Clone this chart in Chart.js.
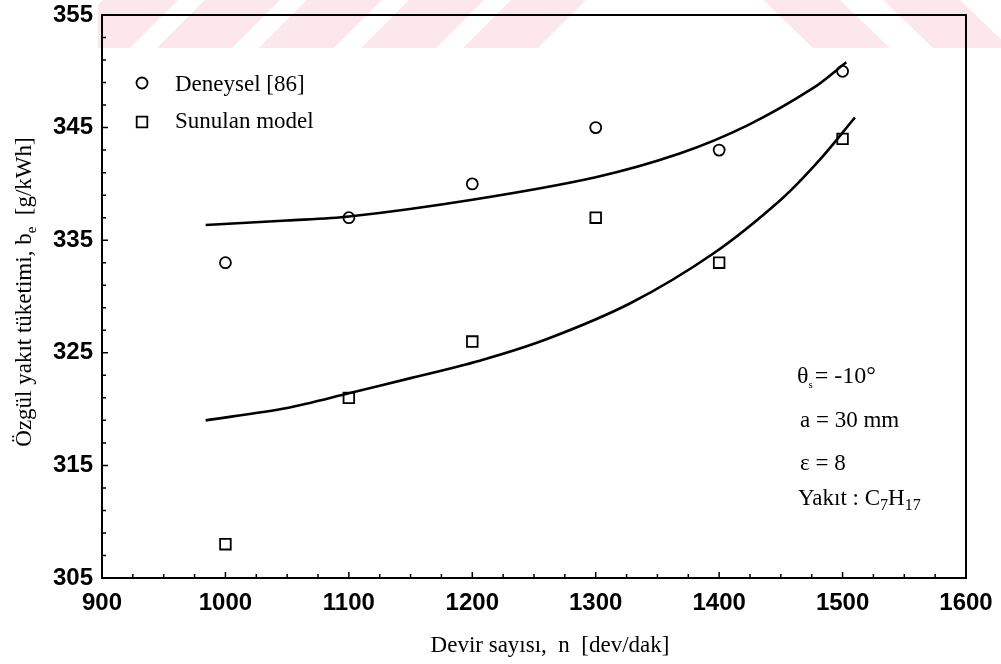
<!DOCTYPE html>
<html>
<head>
<meta charset="utf-8">
<script src="https://cdn.jsdelivr.net/npm/chart.js@4"></script>
<style>
  html, body { margin: 0; padding: 0; background: #fff; }
  #wrap { width: 1001px; height: 664px; }
</style>
</head>
<body>
<div id="wrap"><canvas id="be-chart" width="1001" height="664"></canvas></div>
<script>
const rpm = [1000, 1100, 1200, 1300, 1400, 1500];
const deneyselBe = [333, 337, 340, 345, 343, 350];
const modelBe = [308, 321, 326, 337, 333, 344];

// Fitted curves, points
const upperFitRpm = [984, 1050, 1100, 1200, 1300, 1368, 1423, 1476, 1503];
const upperFitBe = [336.35, 336.75, 337.1, 338.6, 340.6, 342.7, 345.2, 348.5, 350.8];
const lowerFitRpm = [984, 1050, 1100, 1150, 1206, 1260, 1328, 1395, 1450, 1482, 1510];
const lowerFitBe = [319.0, 320.1, 321.4, 322.75, 324.3, 326.2, 329.4, 333.8, 338.6, 342.2, 345.9];

const legendLabels = ["Deneysel [86]", "Sunulan model"];

function toPoints(xs, ys) {
  return xs.map((v, i) => ({ x: v, y: ys[i] }));
}

const serif = '"Liberation Serif", "Times New Roman", serif';
const sans = '"Liberation Sans", Arial, sans-serif';

// pale pink striped band at the top of the scan
const watermark = {
  id: "watermark",
  beforeDraw(chart) {
    const ctx = chart.ctx;
    ctx.save();
    ctx.beginPath();
    ctx.rect(98, 0, 903, 48);
    ctx.clip();
    ctx.fillStyle = "#fce8ec";
    for (let b = 55; b < 560; b += 102) {
      ctx.beginPath();
      ctx.moveTo(b, 48);
      ctx.lineTo(b + 75, 48);
      ctx.lineTo(b + 123, 0);
      ctx.lineTo(b + 48, 0);
      ctx.closePath();
      ctx.fill();
    }
    for (let t = 763; t < 1100; t += 120) {
      ctx.beginPath();
      ctx.moveTo(t, 0);
      ctx.lineTo(t + 77, 0);
      ctx.lineTo(t + 127, 48);
      ctx.lineTo(t + 50, 48);
      ctx.closePath();
      ctx.fill();
    }
    ctx.restore();
  },
};

// box round the plot and the small inward ticks
const frame = {
  id: "frame",
  afterDatasetsDraw(chart) {
    const { ctx, chartArea: a, scales } = chart;
    const x = scales.x, y = scales.y;
    ctx.save();
    ctx.strokeStyle = "#000";
    ctx.lineWidth = 2;
    ctx.strokeRect(a.left, a.top, a.right - a.left, a.bottom - a.top);
    ctx.lineWidth = 1.5;
    ctx.beginPath();
    for (let v = 900; v <= 1600; v += 25) {
      const px = x.getPixelForValue(v);
      const len = v % 100 === 0 ? 6 : 4;
      ctx.moveTo(px, a.bottom);
      ctx.lineTo(px, a.bottom - len);
    }
    for (let v = 305; v <= 355; v += 2) {
      const py = y.getPixelForValue(v);
      const len = (v - 305) % 10 === 0 ? 6 : 4;
      ctx.moveTo(a.left, py);
      ctx.lineTo(a.left + len, py);
    }
    ctx.stroke();
    ctx.restore();
  },
};

// legend, notes and axis titles
const texts = {
  id: "texts",
  afterDraw(chart) {
    const ctx = chart.ctx;
    const h = Chart.helpers;
    ctx.save();
    ctx.textBaseline = "alphabetic";
    ctx.textAlign = "left";

    // legend
    ctx.strokeStyle = "#000";
    ctx.fillStyle = "rgba(0,0,0,0)";
    ctx.lineWidth = 1.8;
    h.drawPoint(ctx, { pointStyle: "circle", radius: 5.5, rotation: 0, borderWidth: 1.8 }, 142, 83);
    h.drawPoint(ctx, { pointStyle: "rect", radius: 7.5, rotation: 0, borderWidth: 1.8 }, 142, 122);
    ctx.fillStyle = "#000";
    ctx.font = "23px " + serif;
    ctx.fillText(legendLabels[0], 175, 91);
    ctx.fillText(legendLabels[1], 175, 128);

    // notes
    let xx = 797;
    ctx.font = "24px " + serif;
    ctx.fillText("\u03b8", xx, 383);
    xx += ctx.measureText("\u03b8").width;
    ctx.font = "11px " + serif;
    ctx.fillText("s", xx, 388);
    xx += ctx.measureText("s").width + 2;
    ctx.font = "24px " + serif;
    ctx.fillText("= -10\u00b0", xx, 383);

    ctx.font = "23px " + serif;
    ctx.fillText("a = 30 mm", 800, 427);
    ctx.fillText("\u03b5 = 8", 800, 470);
    xx = 798;
    const parts = [["Yak\u0131t : C", 0], ["7", 1], ["H", 0], ["17", 1]];
    parts.forEach(([s, sub]) => {
      ctx.font = (sub ? "16px " : "23px ") + serif;
      ctx.fillText(s, xx, sub ? 510 : 505);
      xx += ctx.measureText(s).width;
    });

    // x title
    ctx.font = "23px " + serif;
    ctx.textAlign = "center";
    ctx.fillText("Devir say\u0131s\u0131,  n  [dev/dak]", 550, 652);

    // y title, rotated
    ctx.translate(31, 292);
    ctx.rotate(-Math.PI / 2);
    const yParts = [["\u00d6zg\u00fcl yak\u0131t t\u00fcketimi, b", 0], ["e", 1], ["  [g/kWh]", 0]];
    let total = 0;
    yParts.forEach(([s, sub]) => {
      ctx.font = (sub ? "15px " : "23px ") + serif;
      total += ctx.measureText(s).width;
    });
    ctx.textAlign = "left";
    let p = -total / 2;
    yParts.forEach(([s, sub]) => {
      ctx.font = (sub ? "15px " : "23px ") + serif;
      ctx.fillText(s, p, sub ? 5 : 0);
      p += ctx.measureText(s).width;
    });
    ctx.restore();
  },
};

new Chart(document.getElementById("be-chart"), {
  type: "scatter",
  data: {
    datasets: [
      {
        label: legendLabels[0],
        data: toPoints(rpm, deneyselBe),
        pointStyle: "circle",
        pointRadius: 5.5,
        pointBorderWidth: 1.8,
        borderColor: "#000",
        backgroundColor: "rgba(0,0,0,0)",
      },
      {
        label: legendLabels[1],
        data: toPoints(rpm, modelBe),
        pointStyle: "rect",
        pointRadius: 7.5,
        pointBorderWidth: 1.8,
        borderColor: "#000",
        backgroundColor: "rgba(0,0,0,0)",
      },
      {
        label: "fit1",
        type: "line",
        data: toPoints(upperFitRpm, upperFitBe),
        showLine: true,
        pointRadius: 0,
        borderColor: "#000",
        borderWidth: 2.6,
        tension: 0.3,
        fill: false,
      },
      {
        label: "fit2",
        type: "line",
        data: toPoints(lowerFitRpm, lowerFitBe),
        showLine: true,
        pointRadius: 0,
        borderColor: "#000",
        borderWidth: 2.6,
        tension: 0.3,
        fill: false,
      },
    ],
  },
  options: {
    responsive: false,
    animation: false,
    layout: { padding: { top: 15, right: 35, left: 0, bottom: 0 } },
    plugins: {
      legend: { display: false },
      tooltip: { enabled: false },
    },
    scales: {
      x: {
        type: "linear",
        min: 900,
        max: 1600,
        grid: { display: false, drawTicks: false },
        border: { display: false },
        ticks: {
          stepSize: 100,
          padding: 11,
          color: "#000",
          maxRotation: 0,
          font: { family: sans, size: 24, weight: "bold" },
          callback: (v) => String(v),
        },
        afterFit(scale) {
          scale.height = 86;
          scale.paddingLeft = 0;
          scale.paddingRight = 0;
        },
      },
      y: {
        min: 305,
        max: 355,
        grid: { display: false, drawTicks: false },
        border: { display: false },
        ticks: {
          stepSize: 10,
          padding: 9,
          color: "#000",
          font: { family: sans, size: 24, weight: "bold" },
          callback: (v) => String(v),
        },
        afterFit(scale) {
          scale.width = 102;
          scale.paddingTop = 0;
          scale.paddingBottom = 0;
        },
      },
    },
  },
  plugins: [watermark, frame, texts],
});
</script>
</body>
</html>
